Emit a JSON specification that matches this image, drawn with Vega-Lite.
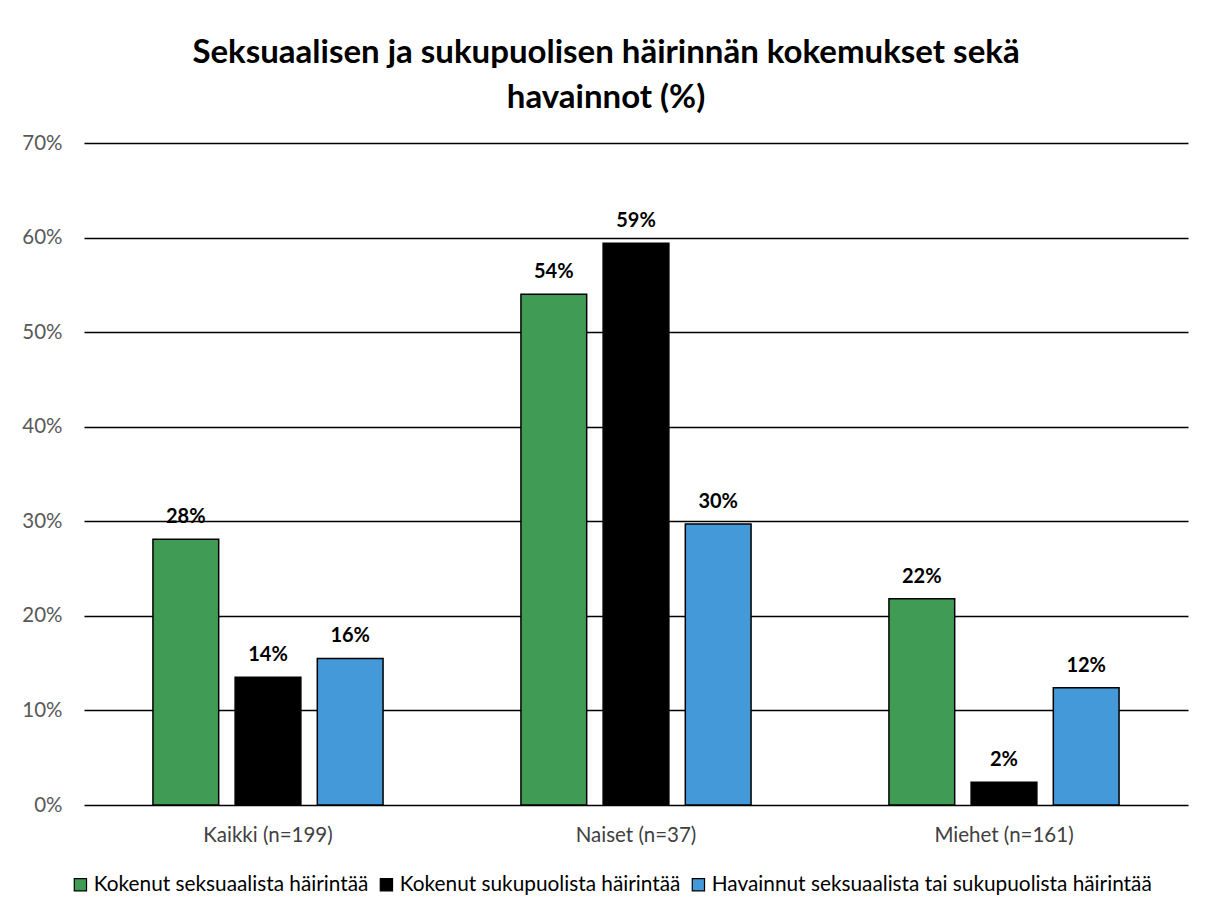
{
  "$schema": "https://vega.github.io/schema/vega-lite/v6.json",
  "autosize": "none",
  "width": 1104,
  "height": 662,
  "padding": {"left": 84, "top": 143, "right": 22, "bottom": 111},
  "background": "white",
  "config": {
    "font": "Lato",
    "view": {"stroke": null}
  },
  "title": {
    "text": ["Seksuaalisen ja sukupuolisen häirinnän kokemukset sekä", "havainnot (%)"],
    "fontSize": 33,
    "fontWeight": "bold",
    "color": "#000000",
    "anchor": "middle",
    "dx": -30,
    "offset": 18,
    "lineHeight": 45
  },
  "data": {
    "values": [
      {"group": "Kaikki (n=199)", "series": "Kokenut seksuaalista häirintää", "value": 0.281},
      {"group": "Kaikki (n=199)", "series": "Kokenut sukupuolista häirintää", "value": 0.135},
      {"group": "Kaikki (n=199)", "series": "Havainnut seksuaalista tai sukupuolista häirintää", "value": 0.155},
      {"group": "Naiset (n=37)", "series": "Kokenut seksuaalista häirintää", "value": 0.540},
      {"group": "Naiset (n=37)", "series": "Kokenut sukupuolista häirintää", "value": 0.594},
      {"group": "Naiset (n=37)", "series": "Havainnut seksuaalista tai sukupuolista häirintää", "value": 0.297},
      {"group": "Miehet (n=161)", "series": "Kokenut seksuaalista häirintää", "value": 0.218},
      {"group": "Miehet (n=161)", "series": "Kokenut sukupuolista häirintää", "value": 0.024},
      {"group": "Miehet (n=161)", "series": "Havainnut seksuaalista tai sukupuolista häirintää", "value": 0.124}
    ]
  },
  "encoding": {
    "x": {
      "field": "group", "type": "nominal", "sort": null,
      "scale": {"paddingInner": 0.33, "paddingOuter": 0.165},
      "axis": {"title": null, "labelAngle": 0, "labelFontSize": 20.5, "labelColor": "#404040", "ticks": false, "domain": false, "labelPadding": 20}
    },
    "xOffset": {
      "field": "series", "type": "nominal", "sort": null,
      "scale": {"paddingInner": 0.2, "paddingOuter": 0.1}
    },
    "y": {
      "field": "value", "type": "quantitative",
      "scale": {"domain": [0, 0.7], "nice": false},
      "axis": {"title": null, "format": ".0%", "values": [0, 0.1, 0.2, 0.3, 0.4, 0.5, 0.6, 0.7], "labelFontSize": 20.5, "labelColor": "#595959", "ticks": false, "domain": false, "labelPadding": 22, "gridColor": "#000000", "gridWidth": 1.5, "gridOpacity": 1}
    }
  },
  "layer": [
    {
      "mark": {"type": "bar", "stroke": "#000000", "strokeWidth": 1.5},
      "encoding": {
        "color": {
          "field": "series", "type": "nominal", "sort": null,
          "scale": {
            "domain": ["Kokenut seksuaalista häirintää", "Kokenut sukupuolista häirintää", "Havainnut seksuaalista tai sukupuolista häirintää"],
            "range": ["#409B55", "#000000", "#4499D8"]
          },
          "legend": {
            "title": null, "orient": "none", "direction": "horizontal", "legendX": -14, "legendY": 731,
            "symbolType": "square", "symbolSize": 150, "symbolStrokeColor": "#000000", "symbolStrokeWidth": 1.2,
            "labelFontSize": 20.8, "labelColor": "#000000", "labelOffset": 3, "columnPadding": 7,
            "labelLimit": 600
          }
        }
      }
    },
    {
      "mark": {"type": "text", "baseline": "bottom", "dy": -12, "fontSize": 20, "fontWeight": "bold", "color": "#000000"},
      "encoding": {
        "text": {"field": "value", "type": "quantitative", "format": ".0%"}
      }
    }
  ]
}
